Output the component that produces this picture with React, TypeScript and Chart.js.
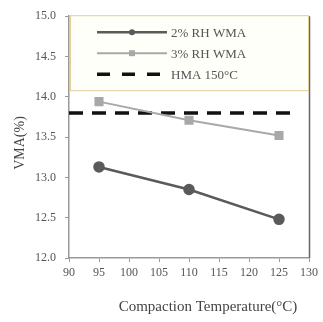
import React, { useEffect, useRef } from "react";
import { Chart, registerables } from "chart.js";

Chart.register(...registerables);

const temps = [95, 110, 125];
const rh2 = [13.13, 12.85, 12.48];
const rh3 = [13.94, 13.71, 13.52];
const hmaX = [90, 128];
const hmaValue = 13.8;
const seriesLabels = ["2% RH WMA", "3% RH WMA", "HMA 150°C"];
const xTitle = "Compaction Temperature(°C)";
const yTitle = "VMA(%)";

const FONT = "'Liberation Serif', 'DejaVu Serif', serif";

const legendPlugin = {
  id: "insideLegend",
  afterDraw(chart: any) {
    const ctx = chart.ctx;
    const { left, right, top, bottom } = chart.chartArea;
    ctx.save();
    // right border of plot
    ctx.strokeStyle = "#666";
    ctx.lineWidth = 1.5;
    ctx.beginPath();
    ctx.moveTo(right + 0.5, top);
    ctx.lineTo(right + 0.5, bottom);
    ctx.stroke();
    // legend box
    const bx = left + 1, by = top - 1, bw = right - left - 2, bh = 75;
    ctx.fillStyle = "#fffffa";
    ctx.fillRect(bx, by, bw, bh);
    ctx.strokeStyle = "#e2cf98";
    ctx.lineWidth = 1;
    ctx.strokeRect(bx + 0.5, by + 0.5, bw, bh);
    const ds = chart.data.datasets;
    const rows = [top + 16, top + 37, top + 58];
    const x0 = 97, x1 = 167;
    ds.forEach((d: any, i: number) => {
      const y = rows[i];
      ctx.strokeStyle = d.borderColor;
      ctx.lineWidth = d.borderWidth;
      ctx.setLineDash(d.borderDash ? [13, 12] : []);
      ctx.beginPath();
      ctx.moveTo(x0, y);
      ctx.lineTo(x1, y);
      ctx.stroke();
      ctx.setLineDash([]);
      if (d.pointRadius > 0) {
        ctx.fillStyle = d.pointBackgroundColor;
        const cx = (x0 + x1) / 2;
        if (d.pointStyle === "rect") {
          ctx.fillRect(cx - 3, y - 3, 6, 6);
        } else {
          ctx.beginPath();
          ctx.arc(cx, y, 3, 0, Math.PI * 2);
          ctx.fill();
        }
      }
      ctx.fillStyle = "#555";
      ctx.font = `13px ${FONT}`;
      ctx.textBaseline = "middle";
      ctx.textAlign = "left";
      ctx.fillText(d.label, x1 + 4, y + 1);
    });
    // axis titles
    ctx.fillStyle = "#444";
    ctx.font = `15px ${FONT}`;
    ctx.textAlign = "center";
    ctx.textBaseline = "middle";
    ctx.fillText(xTitle, 208, 307);
    ctx.translate(20, 143);
    ctx.rotate(-Math.PI / 2);
    ctx.font = `14px ${FONT}`;
    ctx.fillText(yTitle, 0, 0);
    ctx.restore();
  },
};

export default function App() {
  const ref = useRef<HTMLCanvasElement>(null);
  useEffect(() => {
    document.body.style.margin = "0";
    const chart = new Chart(ref.current!, {
      type: "line",
      data: {
        datasets: [
          {
            label: seriesLabels[0],
            data: temps.map((t, i) => ({ x: t, y: rh2[i] })),
            borderColor: "#5a5a5a",
            backgroundColor: "#5a5a5a",
            pointBackgroundColor: "#5a5a5a",
            pointBorderColor: "#5a5a5a",
            borderWidth: 2.5,
            pointRadius: 4.5,
            pointStyle: "circle",
          },
          {
            label: seriesLabels[1],
            data: temps.map((t, i) => ({ x: t, y: rh3[i] })),
            borderColor: "#a8a8a8",
            backgroundColor: "#a8a8a8",
            pointBackgroundColor: "#a8a8a8",
            pointBorderColor: "#a8a8a8",
            borderWidth: 2,
            pointRadius: 5,
            pointStyle: "rect",
          },
          {
            label: seriesLabels[2],
            data: hmaX.map((t) => ({ x: t, y: hmaValue })),
            borderColor: "#111",
            backgroundColor: "#111",
            borderWidth: 3.5,
            borderDash: [14, 9],
            pointRadius: 0,
          },
        ],
      },
      options: {
        animation: false,
        responsive: false,
        layout: { padding: { top: 16, right: 14, left: 0, bottom: 0 } },
        plugins: { legend: { display: false }, tooltip: { enabled: false } },
        scales: {
          x: {
            type: "linear",
            min: 90,
            max: 130,
            ticks: { stepSize: 5, color: "#555", font: { family: FONT, size: 12 }, padding: 4 },
            grid: { drawOnChartArea: false, tickLength: 4, color: "#999" },
            border: { color: "#999", width: 1.5 },
            afterFit: (s: any) => { s.height = 64; },
          },
          y: {
            min: 12,
            max: 15,
            ticks: {
              stepSize: 0.5,
              color: "#555",
              font: { family: FONT, size: 12 },
              padding: 9,
              callback: (v: any) => Number(v).toFixed(1),
            },
            grid: { drawOnChartArea: false, tickLength: 4, color: "#999" },
            border: { color: "#999", width: 1.5 },
            afterFit: (s: any) => { s.width = 69; },
          },
        },
      },
      plugins: [legendPlugin],
    } as any);
    return () => chart.destroy();
  }, []);
  return <canvas ref={ref} width={323} height={322} />;
}
